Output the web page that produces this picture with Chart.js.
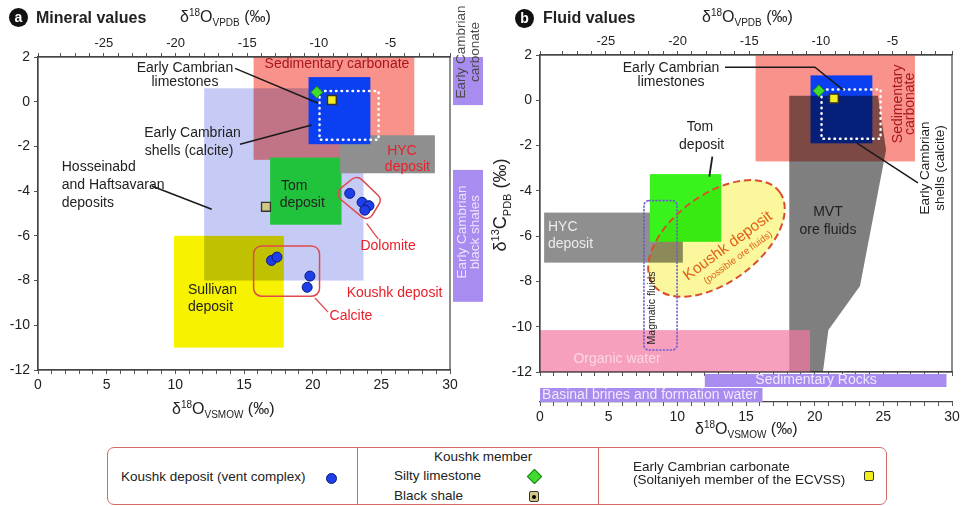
<!DOCTYPE html>
<html lang="en">
<head>
<meta charset="UTF-8">
<title>Mineral and fluid values</title>
<script src="https://cdn.jsdelivr.net/npm/chart.js@4"></script>
<style>
  body { margin: 0; background: #fff; font-family: "Liberation Sans", Arial, sans-serif; color: #222; }
  .wrap { position: relative; width: 963px; height: 506px; overflow: hidden; }
  canvas { position: absolute; top: 0; }
  #mineral { left: 0; }
  #fluid { left: 490px; }
  .txt { position: absolute; white-space: nowrap; line-height: 20px; }
  .badge { position: absolute; width: 19px; height: 19px; border-radius: 50%; background: #111; color: #fff;
           font: bold 14px/18px "Liberation Sans", Arial, sans-serif; text-align: center; }
  .ttl { font-weight: bold; font-size: 16px; }
  .axt { font-size: 16px; }
  .axt sup, .axt sub { font-size: 10px; line-height: 0; }
  .ytitle { position: absolute; width: 140px; height: 22px; left: 430px; top: 194px; text-align: center;
            transform: rotate(-90deg); font-size: 18px; line-height: 22px; white-space: nowrap; }
  .ytitle sup, .ytitle sub { font-size: 11px; line-height: 0; }

  .legend { position: absolute; left: 107px; top: 447px; width: 778px; height: 56px;
            border: 1px solid #d36a6a; border-radius: 7px; font-size: 13.5px; }
  .legend .div { position: absolute; top: 0; bottom: 0; width: 1px; background: #d36a6a; }
  .legend .t { position: absolute; white-space: nowrap; line-height: 15px; }
  .mk { position: absolute; }
</style>
</head>
<body>
<div class="wrap">
  <canvas id="mineral" width="490" height="440"></canvas>
  <canvas id="fluid" width="473" height="440"></canvas>

  <div class="badge" style="left:9px;top:8px;">a</div>
  <div class="txt ttl" style="left:36px;top:8px;">Mineral values</div>
  <div class="txt axt" style="left:180px;top:7px;">δ<sup>18</sup>O<sub>VPDB</sub> (‰)</div>
  <div class="txt axt" style="left:172px;top:399px;">δ<sup>18</sup>O<sub>VSMOW</sub> (‰)</div>

  <div class="badge" style="left:515px;top:9px;">b</div>
  <div class="txt ttl" style="left:543px;top:8px;">Fluid values</div>
  <div class="txt axt" style="left:702px;top:7px;">δ<sup>18</sup>O<sub>VPDB</sub> (‰)</div>
  <div class="txt axt" style="left:695px;top:419px;">δ<sup>18</sup>O<sub>VSMOW</sub> (‰)</div>
  <div class="ytitle">δ<sup>13</sup>C<sub>PDB</sub> (‰)</div>

  <div class="legend">
    <div class="t" style="left:13px;top:21px;">Koushk deposit (vent complex)</div>
    <div class="mk" style="left:218px;top:25px;width:9px;height:9px;border-radius:50%;background:#1e3ee8;border:1px solid #0b1b80;"></div>
    <div class="div" style="left:249px;"></div>
    <div class="t" style="left:326px;top:1px;">Koushk member</div>
    <div class="t" style="left:286px;top:20px;">Silty limestone</div>
    <div class="mk" style="left:421px;top:23px;width:9px;height:9px;transform:rotate(45deg);background:#3fdc2e;border:1px solid #1c7f1c;"></div>
    <div class="t" style="left:286px;top:40px;">Black shale</div>
    <div class="mk" style="left:421px;top:43px;width:8px;height:9px;background:#cfc784;border:1.5px solid #333;border-radius:2px;">
      <div style="position:absolute;left:2px;top:2.5px;width:4px;height:4px;border-radius:50%;background:#000;"></div>
    </div>
    <div class="div" style="left:490px;"></div>
    <div class="t" style="left:525px;top:12px;line-height:13px;">Early Cambrian carbonate<br>(Soltaniyeh member of the ECVSS)</div>
    <div class="mk" style="left:756px;top:23px;width:8px;height:8px;background:#f2ee1e;border:1.5px solid #333;border-radius:2px;"></div>
  </div>
</div>

<script>
// axes: x = δ18O VSMOW (‰), top = δ18O VPDB (‰), y = δ13C PDB (‰)
const xTickLabels = [0, 5, 10, 15, 20, 25, 30];
const vpdbTickLabels = [-25, -20, -15, -10, -5];
const yTickLabels = [-12, -10, -8, -6, -4, -2, 0, 2];
const vpdbRange = [-29.6, -0.85];

// Koushk deposit (vent complex)
const dolomiteX = [22.7, 23.6, 24.1, 23.8];
const dolomiteY = [-4.1, -4.5, -4.65, -4.85];
const calciteX = [17.0, 17.4, 19.8, 19.6];
const calciteY = [-7.1, -6.95, -7.8, -8.3];
// Koushk member + Early Cambrian carbonate
const siltyLimestone = [20.3, 0.42];
const blackShale = [16.6, -4.7];
const cambrianCarbonate = [21.4, 0.08];

// ranges [xmin, xmax, ymin, ymax]  (mineral panel)
const hosseinabdRange = [12.1, 23.7, -8, 0.6];
const sedCarbonateMin = [15.7, 27.4, -2.6, 2];
const sullivanRange = [9.9, 17.9, -11, -6];
const tomMin = [16.9, 22.1, -5.5, -2.5];
const hycMin = [22.0, 28.9, -3.2, -1.5];
const shellsRange = [19.7, 24.2, -1.9, 1.1];
const limestoneRange = [20.5, 24.8, -1.7, 0.48];
const calciteBox = [15.7, 20.5, -8.7, -6.45];
const dolomiteBoxX = [23.23, 25.05, 24.03, 21.55];
const dolomiteBoxY = [-3.28, -4.36, -5.38, -4.12];
const cambrianCarbonateBar = [-0.15, 2];
const cambrianShaleBar = [-8.95, -3.05];

// ranges (fluid panel)
const sedCarbonateFluid = [15.7, 27.3, -2.7, 2];
const tomFluid = [8.0, 13.2, -6.25, -3.26];
const hycFluid = [0.3, 10.4, -7.17, -4.96];
const organicWater = [0, 19.66, -12, -10.15];
const magmaticFluids = [7.57, 9.98, -11.03, -4.43];
const mvtX = [18.15, 24.6, 25.2, 23.3, 21.0, 20.6, 18.15];
const mvtY = [0.2, 0.2, -2.2, -8.2, -10.15, -12, -12];
const koushkCenter = [12.85, -6.1];
const koushkAxisEnd = [17.45, -4.05];
const sedimentaryRocks = [12.0, 29.6];
const basinalBrines = [0, 16.2];

Chart.defaults.font.family = '"Liberation Sans", Arial, sans-serif';
Chart.defaults.color = '#222';

function pts(xs, ys) { return xs.map((x, i) => ({ x: x, y: ys[i] })); }

function helpers(chart) {
  const X = chart.scales.x, Y = chart.scales.y;
  return { c: chart.ctx, a: chart.chartArea, px: v => X.getPixelForValue(v), py: v => Y.getPixelForValue(v) };
}

function box(h, r, fill, mode, alpha) {
  const x0 = h.px(r[0]), x1 = h.px(r[1]), y0 = h.py(r[3]), y1 = h.py(r[2]);
  h.c.save();
  h.c.globalCompositeOperation = mode || 'source-over';
  h.c.globalAlpha = alpha || 1;
  h.c.fillStyle = fill;
  h.c.fillRect(x0, y0, x1 - x0, y1 - y0);
  h.c.restore();
}

function dotted(h, r, color, width, dash, radius) {
  const x0 = h.px(r[0]), x1 = h.px(r[1]), y0 = h.py(r[3]), y1 = h.py(r[2]);
  const c = h.c;
  c.save();
  c.strokeStyle = color; c.lineWidth = width; c.setLineDash(dash); c.lineCap = 'round';
  c.beginPath();
  if (radius) c.roundRect(x0, y0, x1 - x0, y1 - y0, radius); else c.rect(x0, y0, x1 - x0, y1 - y0);
  c.stroke();
  c.restore();
}

function line(h, xs, ys, color, width) {
  const c = h.c;
  c.save();
  c.strokeStyle = color; c.lineWidth = width || 1.5;
  c.beginPath();
  xs.forEach((x, i) => { if (i === 0) c.moveTo(h.px(x), h.py(ys[i])); else c.lineTo(h.px(x), h.py(ys[i])); });
  c.stroke();
  c.restore();
}

function text(h, s, x, y, o) {
  o = o || {};
  const c = h.c;
  c.save();
  c.font = (o.weight || '') + ' ' + (o.size || 14) + 'px "Liberation Sans", Arial, sans-serif';
  c.fillStyle = o.color || '#222';
  c.textAlign = o.align || 'center';
  c.textBaseline = 'middle';
  c.translate(o.pxX ? x : h.px(x), o.pxY ? y : h.py(y));
  if (o.rot) c.rotate(o.rot);
  c.fillText(s, 0, 0);
  c.restore();
}

function frame(h) {
  h.c.save();
  h.c.strokeStyle = '#444'; h.c.lineWidth = 1.2;
  h.c.strokeRect(h.a.left, h.a.top, h.a.right - h.a.left, h.a.bottom - h.a.top);
  h.c.restore();
}

const whiteBg = {
  id: 'whiteBg',
  beforeDraw(chart) {
    const c = chart.ctx;
    c.save(); c.fillStyle = '#fff'; c.fillRect(0, 0, chart.width, chart.height); c.restore();
  }
};

function drawMineral(chart) {
  const h = helpers(chart), c = h.c, a = h.a;
  box(h, hosseinabdRange, '#c6cbf6');
  box(h, sedCarbonateMin, '#f8928b', 'multiply');
  box(h, sullivanRange, '#f7f300', 'multiply');
  box(h, tomMin, '#22c33c');
  box(h, hycMin, '#8f8f8f');
  box(h, shellsRange, '#0b3ff2');
  dotted(h, limestoneRange, '#fff', 2.5, [0.5, 5]);

  // red outlines around Koushk samples
  dotted(h, calciteBox, '#e04a4a', 1.5, [], 8);
  c.save();
  c.strokeStyle = '#e04a4a'; c.lineWidth = 1.5;
  const P = dolomiteBoxX.map((x, i) => [h.px(x), h.py(dolomiteBoxY[i])]);
  c.beginPath();
  c.moveTo((P[3][0] + P[0][0]) / 2, (P[3][1] + P[0][1]) / 2);
  for (let i = 0; i < 4; i++) {
    const p = P[i], q = P[(i + 1) % 4];
    c.arcTo(p[0], p[1], (p[0] + q[0]) / 2, (p[1] + q[1]) / 2, 7);
  }
  c.closePath(); c.stroke();
  c.restore();

  // labels
  text(h, 'Sedimentary carbonate', 21.77, 1.69, { color: '#a8161e' });
  text(h, 'Early Cambrian', 10.7, 1.51);
  text(h, 'limestones', 10.7, 0.88);
  line(h, [14.35, 20.41], [1.49, -0.07], '#1a1a1a');
  text(h, 'Early Cambrian', 11.25, -1.40);
  text(h, 'shells (calcite)', 11.0, -2.2);
  line(h, [14.71, 19.93], [-1.9, -1.04], '#1a1a1a');
  text(h, 'Hosseinabd', 1.73, -2.92, { align: 'left' });
  text(h, 'and Haftsavaran', 1.73, -3.73, { align: 'left' });
  text(h, 'deposits', 1.73, -4.53, { align: 'left' });
  line(h, [8.28, 12.65], [-3.77, -4.81], '#1a1a1a');
  text(h, 'HYC', 26.5, -2.19, { color: '#e8202a' });
  text(h, 'deposit', 26.9, -2.91, { color: '#e8202a' });
  text(h, 'Tom', 17.7, -3.77, { align: 'left' });
  text(h, 'deposit', 17.6, -4.55, { align: 'left' });
  text(h, 'Sullivan', 10.92, -8.42, { align: 'left' });
  text(h, 'deposit', 10.92, -9.21, { align: 'left' });
  text(h, 'Dolomite', 25.49, -6.48, { color: '#e8202a' });
  line(h, [23.93, 24.78], [-5.44, -6.15], '#e04a4a', 1.3);
  text(h, 'Koushk deposit', 25.96, -8.54, { color: '#e8202a' });
  text(h, 'Calcite', 22.79, -9.58, { color: '#e8202a' });
  line(h, [20.17, 21.12], [-8.78, -9.41], '#e04a4a', 1.3);

  frame(h);

  // purple side bars (outside the frame)
  c.save();
  c.fillStyle = '#a98cef';
  const bx = a.right + 3, bw = 30;
  [cambrianCarbonateBar, cambrianShaleBar].forEach(r => {
    c.fillRect(bx, h.py(r[1]), bw, h.py(r[0]) - h.py(r[1]));
  });
  c.restore();
  const rot = -Math.PI / 2;
  text(h, 'Early Cambrian', a.right + 11, 2.22, { rot: rot, pxX: true, color: '#4a4a4a', size: 13.5 });
  text(h, 'carbonate', a.right + 25, 2.22, { rot: rot, pxX: true, color: '#4a4a4a', size: 13.5 });
  text(h, 'Early Cambrian', a.right + 12, -5.83, { rot: rot, pxX: true, color: '#ece4ff', size: 13.5 });
  text(h, 'black shales', a.right + 25, -5.83, { rot: rot, pxX: true, color: '#ece4ff', size: 13.5 });
}

function drawFluid(chart) {
  const h = helpers(chart), c = h.c, a = h.a;
  box(h, sedCarbonateFluid, '#f8928b');
  box(h, shellsRange, '#0b3ff2');
  // MVT ore fluids polygon
  c.save();
  c.globalCompositeOperation = 'multiply';
  c.fillStyle = '#7f7f7f';
  c.beginPath();
  mvtX.forEach((x, i) => { if (i === 0) c.moveTo(h.px(x), h.py(mvtY[i])); else c.lineTo(h.px(x), h.py(mvtY[i])); });
  c.closePath(); c.fill();
  c.restore();
  box(h, hycFluid, '#8f8f8f');
  box(h, tomFluid, '#3af21c');

  // Koushk ellipse
  const cx = h.px(koushkCenter[0]), cy = h.py(koushkCenter[1]);
  const ex = h.px(koushkAxisEnd[0]), ey = h.py(koushkAxisEnd[1]);
  const ra = Math.hypot(ex - cx, ey - cy), ang = Math.atan2(ey - cy, ex - cx);
  c.save();
  c.beginPath();
  c.ellipse(cx, cy, ra, ra * 0.56, ang, 0, Math.PI * 2);
  c.globalCompositeOperation = 'multiply';
  c.fillStyle = '#faf79c';
  c.fill();
  c.globalCompositeOperation = 'source-over';
  c.strokeStyle = '#d9502a'; c.lineWidth = 2; c.setLineDash([7, 4]);
  c.stroke();
  c.restore();

  box(h, organicWater, '#f277a1', 'source-over', 0.7);
  dotted(h, magmaticFluids, '#6a5ad0', 1.6, [1, 2.5], 5);
  dotted(h, limestoneRange, '#fff', 2.5, [0.5, 5]);

  // labels
  text(h, 'Early Cambrian', 9.54, 1.44);
  text(h, 'limestones', 9.54, 0.82);
  line(h, [13.47, 20.02, 22.09], [1.46, 1.46, 0.45], '#1a1a1a');
  text(h, 'Tom', 11.65, -1.17);
  text(h, 'deposit', 11.77, -1.97);
  line(h, [12.55, 12.33], [-2.49, -3.37], '#1a1a1a', 1.8);
  const rot = -Math.PI / 2;
  text(h, 'Sedimentary', 26.07, -0.16, { rot: rot, color: '#a8161e' });
  text(h, 'carbonate', 26.94, -0.16, { rot: rot, color: '#a8161e' });
  text(h, 'Early Cambrian', 28.03, -2.99, { rot: rot, size: 13.5 });
  text(h, 'shells (calcite)', 29.13, -2.99, { rot: rot, size: 13.5 });
  line(h, [23.08, 27.52], [-1.89, -3.65], '#1a1a1a');
  text(h, 'MVT', 20.97, -4.93);
  text(h, 'ore fluids', 20.97, -5.73);
  text(h, 'HYC', 0.58, -5.6, { align: 'left', color: '#ececec' });
  text(h, 'deposit', 0.58, -6.35, { align: 'left', color: '#ececec' });
  text(h, 'Organic water', 5.61, -11.43, { color: '#fcd6e4' });
  text(h, 'Magmatic fluids', 8.16, -9.17, { rot: rot, size: 10.5 });
  text(h, 'Koushk deposit', 13.69, -6.44, { rot: ang, size: 15.5, color: '#e0601a' });
  text(h, '(possible ore fluids)', 14.42, -6.95, { rot: ang, size: 9.5, color: '#e0601a' });

  frame(h);

  // purple bars under the frame
  const b = a.bottom;
  c.save();
  c.fillStyle = '#a98cef';
  c.fillRect(h.px(sedimentaryRocks[0]), b + 2, h.px(sedimentaryRocks[1]) - h.px(sedimentaryRocks[0]), 13);
  c.fillRect(h.px(basinalBrines[0]), b + 16, h.px(basinalBrines[1]) - h.px(basinalBrines[0]), 14);
  c.restore();
  text(h, 'Sedimentary Rocks', 20.1, b + 8.5, { pxY: true, color: '#efe8ff' });
  text(h, 'Basinal brines and formation water', 8.0, b + 23, { pxY: true, color: '#efe8ff' });
}

function xTickCb(v) { return xTickLabels.includes(v) ? String(v) : ''; }
function topTickCb(v) { return vpdbTickLabels.includes(v) ? String(v) : ''; }
function yTickCb(v) { return yTickLabels.includes(v) ? String(v) : ''; }

function xAxis(height, labels, weight) {
  return {
    type: 'linear', position: 'bottom', min: 0, max: 30, weight: weight || 0,
    ticks: { stepSize: 1, autoSkip: false, maxRotation: 0, callback: labels ? xTickCb : () => '', font: { size: 14 }, color: '#222', padding: 3 },
    grid: { drawOnChartArea: false, tickLength: 4, color: '#555' },
    border: { color: '#444', width: 1.2 },
    afterFit: s => { s.height = height; }
  };
}
function topAxis(height) {
  return {
    type: 'linear', position: 'top', min: vpdbRange[0], max: vpdbRange[1],
    ticks: { stepSize: 1, autoSkip: false, maxRotation: 0, callback: topTickCb, font: { size: 13 }, color: '#222', padding: 2 },
    grid: { drawOnChartArea: false, tickLength: 4, color: '#555' },
    border: { color: '#444', width: 1.2 },
    afterFit: s => { s.height = height; }
  };
}
function yAxis(width) {
  return {
    type: 'linear', min: -12, max: 2,
    ticks: { stepSize: 2, autoSkip: false, callback: yTickCb, font: { size: 14 }, color: '#222', padding: 4 },
    grid: { drawOnChartArea: false, tickLength: 4, color: '#555' },
    border: { color: '#444', width: 1.2 },
    afterFit: s => { s.width = width; }
  };
}

const commonOpts = {
  responsive: false, animation: false, devicePixelRatio: 1, events: [],
  plugins: { legend: { display: false }, tooltip: { enabled: false } }
};

const markerSets = [
  { data: [{ x: siltyLimestone[0], y: siltyLimestone[1] }], pointStyle: 'rectRot', pointRadius: 6, backgroundColor: '#3fdc2e', borderColor: '#1c7f1c', borderWidth: 1 },
  { data: [{ x: cambrianCarbonate[0], y: cambrianCarbonate[1] }], pointStyle: 'rect', pointRadius: 6.3, backgroundColor: '#f2ee1e', borderColor: '#333', borderWidth: 1.5 }
];

new Chart(document.getElementById('mineral'), {
  type: 'scatter',
  data: {
    datasets: [
      { data: pts(dolomiteX, dolomiteY).concat(pts(calciteX, calciteY)), pointStyle: 'circle', pointRadius: 5, backgroundColor: '#1e3ee8', borderColor: '#0b1b80', borderWidth: 1 },
      { data: [{ x: blackShale[0], y: blackShale[1] }], pointStyle: 'rect', pointRadius: 6.3, backgroundColor: '#cfc784', borderColor: '#333', borderWidth: 1.3 },
      { data: [{ x: blackShale[0], y: blackShale[1] }], pointStyle: 'circle', pointRadius: 2.3, backgroundColor: '#000', borderWidth: 0 }
    ].concat(markerSets)
  },
  options: Object.assign({}, commonOpts, {
    layout: { padding: { left: 0, right: 40, top: 0, bottom: 0 } },
    scales: { x: xAxis(70, true), x2: topAxis(57), y: yAxis(38) }
  }),
  plugins: [whiteBg, { id: 'mineralRegions', beforeDatasetsDraw: drawMineral }]
});

new Chart(document.getElementById('fluid'), {
  type: 'scatter',
  data: { datasets: markerSets.map(d => Object.assign({}, d)) },
  options: Object.assign({}, commonOpts, {
    layout: { padding: { left: 0, right: 11, top: 0, bottom: 0 } },
    scales: { x: xAxis(30, false, 0), xb: xAxis(38, true, 1), x2: topAxis(55), y: yAxis(50) }
  }),
  plugins: [whiteBg, { id: 'fluidRegions', beforeDatasetsDraw: drawFluid }]
});
</script>
</body>
</html>
